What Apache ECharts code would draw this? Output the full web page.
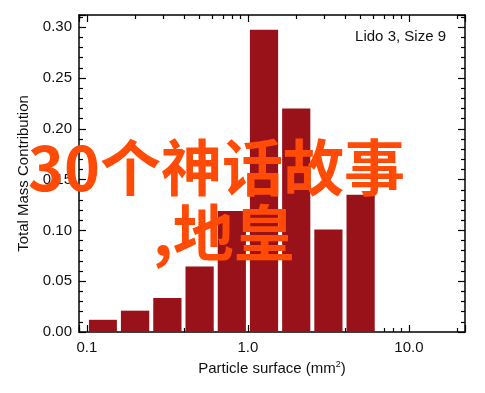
<!DOCTYPE html>
<html><head><meta charset="utf-8">
<script src="https://cdn.jsdelivr.net/npm/echarts@6/dist/echarts.min.js"></script>
<style>html,body{margin:0;padding:0;background:#fff}#c{width:485px;height:393px}</style>
</head><body><div id="c"></div>
<script>
// Histogram bin edges (particle surface, mm^2) and mass contribution per bin
const binEdges = [0.1, 0.158, 0.251, 0.398, 0.631, 1.0, 1.585, 2.512, 3.981, 6.31];
const massFraction = [0.012, 0.021, 0.0335, 0.0645, 0.119, 0.2975, 0.22, 0.101, 0.135];
const xTickValues = [0.1, 1, 10];
const xTickLabels = ['0.1', '1.0', '10.0'];
const annotation = 'Lido 3, Size 9';
const overlayLines = ['30个神话故事', ',地皇'];

const barData = massFraction.map((v, i) => [binEdges[i], binEdges[i + 1], v]);
const FONT = '"Liberation Sans", Arial, Helvetica, sans-serif';
const AX = '#000';
const FS = 15;

function xLabel(v) {
  for (let i = 0; i < xTickValues.length; i++) {
    if (Math.abs(Math.log10(v) - Math.log10(xTickValues[i])) < 1e-6) return xTickLabels[i];
  }
  return '';
}

const commonX = {
  type: 'log', logBase: 10, min: 0.0893, max: 22.3,
  axisLine: {show: true, onZero: false, lineStyle: {color: AX, width: 1.5}},
  axisTick: {show: true, inside: true, length: 7, lineStyle: {color: AX, width: 1.2}},
  minorTick: {show: true, splitNumber: 9, length: 4, lineStyle: {color: AX, width: 1.2}},
  splitLine: {show: false}, minorSplitLine: {show: false}
};
const commonY = {
  type: 'value', min: 0, max: 0.312, interval: 0.05,
  axisLine: {show: true, onZero: false, lineStyle: {color: AX, width: 1.5}},
  axisTick: {show: true, inside: true, length: 7, lineStyle: {color: AX, width: 1.2}},
  minorTick: {show: true, splitNumber: 5, length: 4, lineStyle: {color: AX, width: 1.2}},
  splitLine: {show: false}, minorSplitLine: {show: false}
};

const chart = echarts.init(document.getElementById('c'), null, {renderer: 'canvas'});
chart.setOption({
  backgroundColor: '#fff',
  animation: false,
  grid: {left: 79, right: 20, top: 15, bottom: 61, containLabel: false},
  xAxis: [
    Object.assign({}, commonX, {
      position: 'bottom',
      name: 'Particle surface (mm{sup|2})', nameLocation: 'middle', nameGap: 25,
      nameTextStyle: {color: '#111', fontFamily: FONT, fontSize: FS,
        rich: {sup: {fontSize: 9, fontFamily: FONT, color: '#111', padding: [0, 0, 9, 0]}}},
      axisLabel: {show: true, color: '#111', fontFamily: FONT, fontSize: FS, margin: 8,
        showMinLabel: false, showMaxLabel: false, formatter: xLabel}
    }),
    Object.assign({}, commonX, {position: 'top', axisLabel: {show: false}})
  ],
  yAxis: [
    Object.assign({}, commonY, {
      position: 'left',
      name: 'Total Mass Contribution', nameLocation: 'middle', nameGap: 48,
      nameTextStyle: {color: '#111', fontFamily: FONT, fontSize: FS},
      axisLabel: {show: true, color: '#111', fontFamily: FONT, fontSize: FS, margin: 7,
        showMaxLabel: false, formatter: v => v.toFixed(2)}
    }),
    Object.assign({}, commonY, {position: 'right', axisLabel: {show: false}})
  ],
  series: [{
    type: 'custom',
    xAxisIndex: 0, yAxisIndex: 0,
    data: barData,
    encode: {x: [0, 1], y: 2},
    renderItem: function (params, api) {
      const p0 = api.coord([api.value(0), 0]);
      const p1 = api.coord([api.value(1), api.value(2)]);
      return {
        type: 'rect',
        shape: {x: p0[0] + 2, y: p1[1], width: p1[0] - p0[0] - 4, height: p0[1] - p1[1]},
        style: {fill: '#9a1219'}
      };
    }
  }],
  graphic: [
    {type: 'text', right: 39, top: 29, style: {text: annotation, fill: '#111', font: FS + 'px ' + FONT}},
    {type: 'text', left: 28, top: 137, z: 100,
      style: {text: overlayLines[0], fill: '#ff4b05', font: 'bold 61px "Noto Sans CJK SC"'}},
    {type: 'text', left: 153, top: 202, z: 100,
      style: {text: overlayLines[1], fill: '#ff4b05', font: 'bold 61px "Noto Sans CJK SC"'}}
  ]
});
</script>
</body></html>
